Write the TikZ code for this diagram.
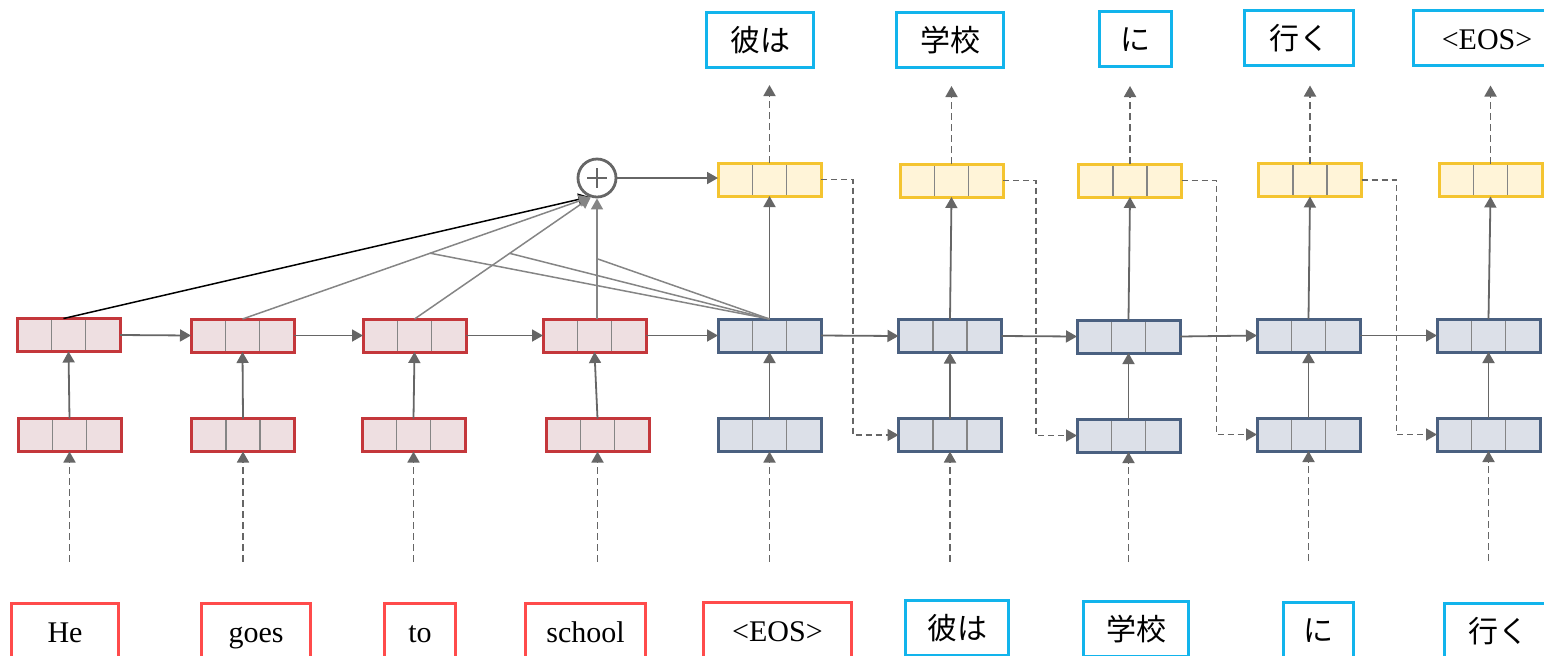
\documentclass[tikz,border=0pt]{standalone}
\usepackage{fontspec}
\setmainfont{Liberation Serif}
\newfontfamily\jp{Noto Sans CJK JP}
\usetikzlibrary{arrows.meta,calc}

\definecolor{encedge}{HTML}{C4373B}
\definecolor{encfill}{HTML}{EEDFE1}
\definecolor{decedge}{HTML}{4A6080}
\definecolor{decfill}{HTML}{DCE0E8}
\definecolor{outedge}{HTML}{F4C430}
\definecolor{outfill}{HTML}{FFF4D8}
\definecolor{wordred}{HTML}{FF4B4B}
\definecolor{wordblue}{HTML}{12B4EC}
\definecolor{arrowgray}{HTML}{666666}
\definecolor{attngray}{HTML}{858585}
\definecolor{sepgray}{HTML}{858585}

\tikzset{
  cellbox/.style={line width=1.5pt, minimum width=51.5pt, minimum height=16.5pt,
    inner sep=0pt, outer sep=0pt,
    path picture={
      \draw[sepgray, line width=0.8pt]
        ($(path picture bounding box.south west)!1/3!(path picture bounding box.south east)$) --
        ($(path picture bounding box.north west)!1/3!(path picture bounding box.north east)$);
      \draw[sepgray, line width=0.8pt]
        ($(path picture bounding box.south west)!2/3!(path picture bounding box.south east)$) --
        ($(path picture bounding box.north west)!2/3!(path picture bounding box.north east)$);
    }},
  encbox/.style={cellbox, draw=encedge, fill=encfill},
  decbox/.style={cellbox, draw=decedge, fill=decfill},
  outbox/.style={cellbox, draw=outedge, fill=outfill},
  wordbox/.style={draw, line width=1.5pt, minimum height=27.5pt, inner sep=0pt,
    text height=14pt, text depth=2.5pt, font=\fontsize{15}{18}\selectfont},
  enword/.style={wordbox, draw=wordred},
  jpword/.style={wordbox, draw=wordblue},
  tip/.style={-{Triangle[length=5.5pt,width=6pt]}},
  arr/.style={draw=arrowgray, line width=0.9pt, tip},
  dasharr/.style={arr, dash pattern=on 3.5pt off 2pt},
  dashline/.style={draw=arrowgray, line width=0.8pt, dash pattern=on 3pt off 2pt},
  attn/.style={draw=attngray, line width=0.75pt},
}

\begin{document}
\begin{tikzpicture}[x=0.5pt,y=-0.5pt]
\useasboundingbox (0,0) rectangle (1544,655);

% encoder, second layer
\node[encbox] (rt1) at (68.5,335) {};
\node[encbox] (rt2) at (242.5,335.5) {};
\node[encbox] (rt3) at (414.5,335.5) {};
\node[encbox] (rt4) at (594.5,335.5) {};
% encoder, first layer
\node[encbox] (rb1) at (69.5,435) {};
\node[encbox] (rb2) at (243,435) {};
\node[encbox] (rb3) at (413.5,435) {};
\node[encbox] (rb4) at (597.5,435) {};

% decoder, second layer
\node[decbox] (bt1) at (769.5,335.5) {};
\node[decbox] (bt2) at (950,336) {};
\node[decbox] (bt3) at (1128.5,336.5) {};
\node[decbox] (bt4) at (1308.5,335.5) {};
\node[decbox] (bt5) at (1488.5,335.5) {};
% decoder, first layer
\node[decbox] (bb1) at (769.5,435) {};
\node[decbox] (bb2) at (950,435) {};
\node[decbox] (bb3) at (1128.5,435.5) {};
\node[decbox] (bb4) at (1308.5,434.5) {};
\node[decbox] (bb5) at (1488.5,434.5) {};

% output layer
\node[outbox] (yl1) at (769.5,179.5) {};
\node[outbox] (yl2) at (951.5,180.5) {};
\node[outbox] (yl3) at (1130,180.5) {};
\node[outbox] (yl4) at (1310,180) {};
\node[outbox] (yl5) at (1490.5,180) {};

% attention sum
\node[circle, draw=arrowgray, line width=1.4pt, minimum size=19pt, inner sep=0pt, fill=white] (plus) at (597,178) {};
\draw[arrowgray, line width=0.9pt] ($(plus.center)+(-10,0)$) -- ($(plus.center)+(10,0)$);
\draw[arrowgray, line width=0.9pt] ($(plus.center)+(0,-10)$) -- ($(plus.center)+(0,10)$);

% output words
\node[jpword, minimum width=53.5pt] (o1) at (760,39.5) {\jp 彼は};
\node[jpword, minimum width=53.5pt] (o2) at (950,39.5) {\jp 学校};
\node[jpword, minimum width=36pt]   (o3) at (1135.5,38.5) {\jp に};
\node[jpword, minimum width=54.5pt] (o4) at (1299,38) {\jp 行く};
\node[jpword, minimum width=73.5pt] (o5) at (1487,38) {<EOS>};

% input words
\node[enword, minimum width=53.5pt] (w1) at (65,630.5) {He};
\node[enword, minimum width=54.5pt] (w2) at (256,630.5) {goes};
\node[enword, minimum width=35.5pt] (w3) at (420,631) {to};
\node[enword, minimum width=60pt]   (w4) at (585.5,631) {school};
\node[enword, minimum width=74pt]   (w5) at (777.5,629.5) {<EOS>};
\node[jpword, minimum width=51.5pt] (w6) at (957,627.5) {\jp 彼は};
\node[jpword, minimum width=52.5pt] (w7) at (1136,628.5) {\jp 学校};
\node[jpword, minimum width=35pt]   (w8) at (1318.5,629.5) {\jp に};
\node[jpword, minimum width=53.5pt] (w9) at (1498,630.5) {\jp 行く};

% free ends of the dashed input and output arrows
\foreach \i in {1,...,4} {\path (rb\i.south) ++(0,110) coordinate (er\i);}
\foreach \i in {1,...,5} {\path (bb\i.south) ++(0,110) coordinate (dr\i);}
\foreach \i in {1,...,5} {\path (yl\i.north) ++(0,-78) coordinate (up\i);}

% embeddings into the first layer
\foreach \i in {1,...,4} {\draw[dasharr] (er\i) -- (rb\i.south);}
\foreach \i in {1,...,5} {\draw[dasharr] (dr\i) -- (bb\i.south);}
% predictions out of the output layer
\foreach \i in {1,...,5} {\draw[dasharr] (yl\i.north) -- (up\i);}

% layer to layer
\foreach \i in {1,...,4} {\draw[arr] (rb\i.north) -- (rt\i.south);}
\foreach \i in {1,...,5} {\draw[arr] (bb\i.north) -- (bt\i.south);}
\foreach \i in {1,...,5} {\draw[arr] (bt\i.north) -- (yl\i.south);}

% recurrence along the second layer
\draw[arr] (rt1.east) -- (rt2.west);
\draw[arr] (rt2.east) -- (rt3.west);
\draw[arr] (rt3.east) -- (rt4.west);
\draw[arr] (rt4.east) -- (bt1.west);
\draw[arr] (bt1.east) -- (bt2.west);
\draw[arr] (bt2.east) -- (bt3.west);
\draw[arr] (bt3.east) -- (bt4.west);
\draw[arr] (bt4.east) -- (bt5.west);

% previous prediction fed to the next step
\draw[dashline, tip] (yl1.east) -- ++(32,0) |- (bb2.west);
\draw[dashline, tip] (yl2.east) -- ++(33,0) |- (bb3.west);
\draw[dashline, tip] (yl3.east) -- ++(35,0) |- (bb4.west);
\draw[dashline, tip] (yl4.east) -- ++(35,0) |- (bb5.west);

% attention: encoder states into the sum
\coordinate (r4top) at (rt4.north -| plus.center);
\draw[draw=black, line width=0.75pt, tip] ([xshift=-2.5pt]rt1.north) -- (plus.-112);
\draw[attn, tip] (rt2.north) -- (plus.-110);
\draw[attn, tip] (rt3.north) -- (plus.-108);
\draw[attn, tip] (r4top) -- (plus.south);
\draw[arr] (plus.east) -- (plus.east -| yl1.west);

% attention: decoder state to the encoder links
\coordinate (a2) at ($(rt2.north)!0.54!(plus.-110)$);
\coordinate (a3) at ($(rt3.north)!0.54!(plus.-108)$);
\coordinate (a4) at ($(r4top)!0.5!(plus.south)$);
\draw[attn] (bt1.north) -- (a2);
\draw[attn] (bt1.north) -- (a3);
\draw[attn] (bt1.north) -- (a4);
\end{tikzpicture}
\end{document}
